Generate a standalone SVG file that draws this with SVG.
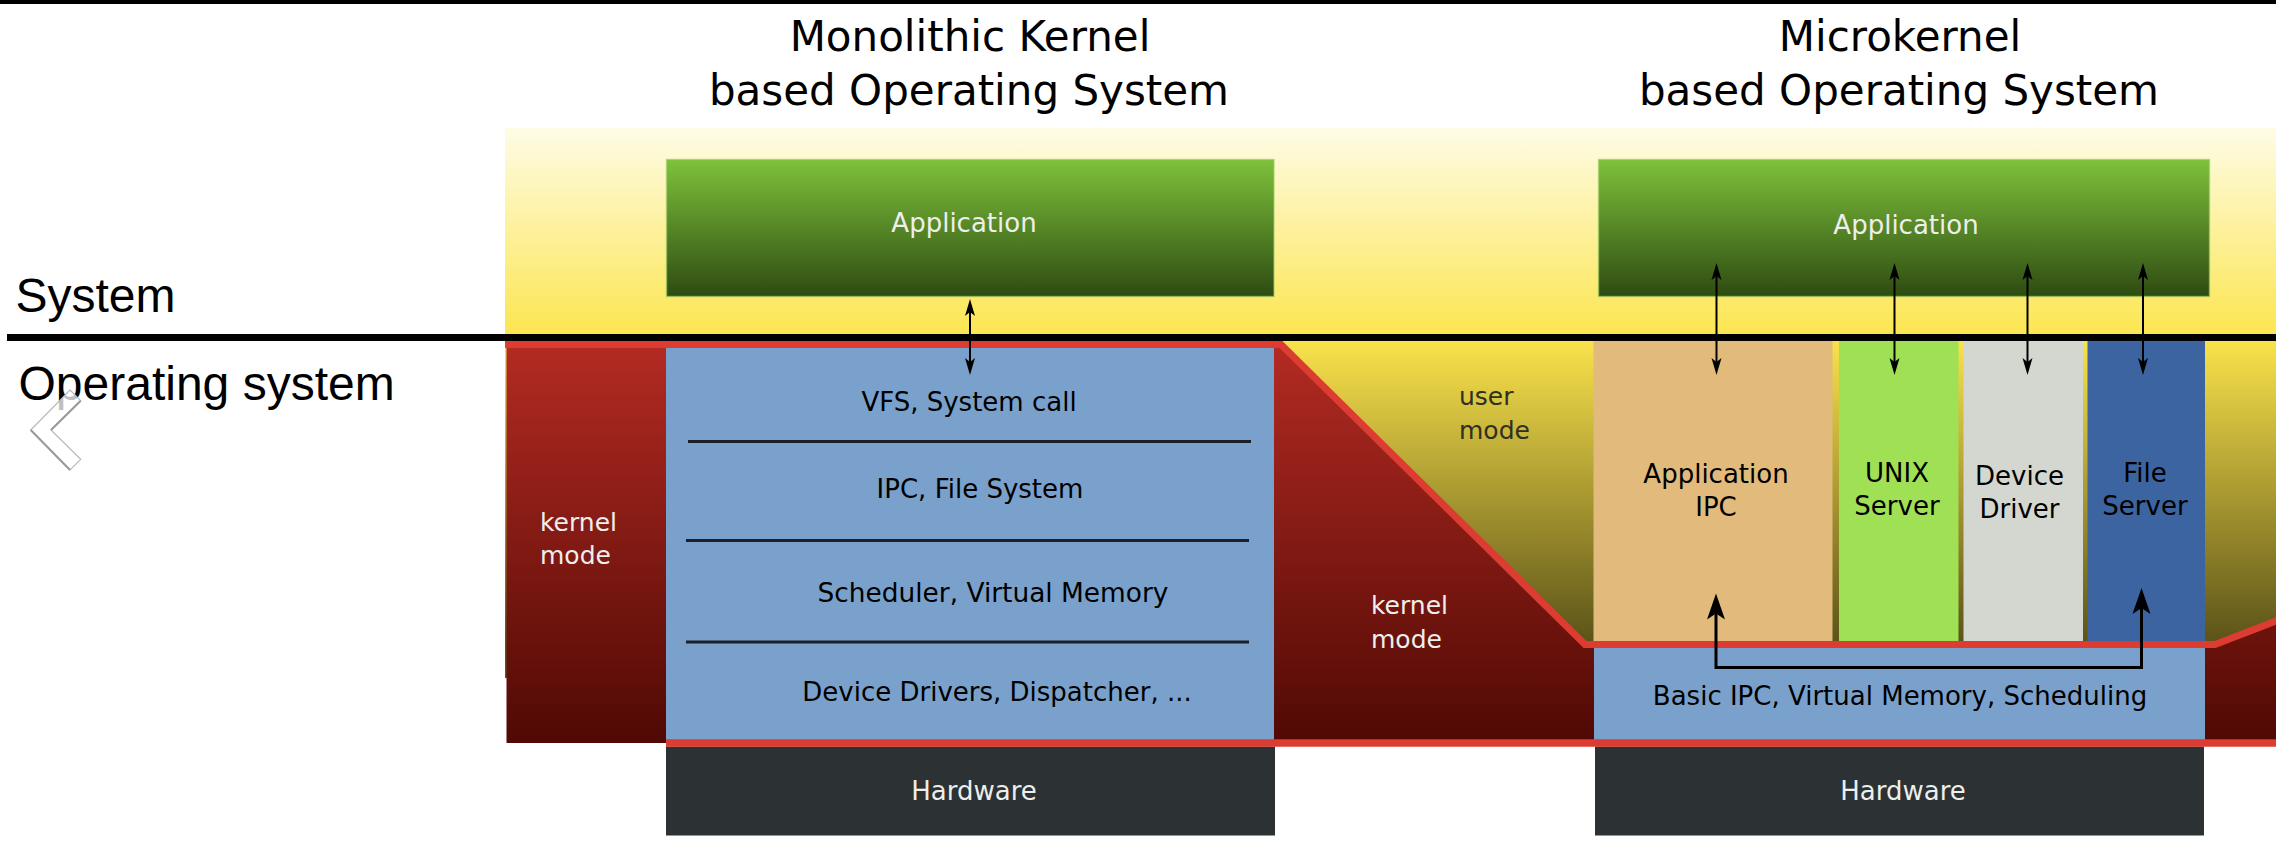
<svg xmlns="http://www.w3.org/2000/svg" width="2276" height="850" viewBox="0 0 2276 850">
<style>
.t{font-family:"DejaVu Sans",sans-serif;font-size:26px;fill:#000}
.tc{text-anchor:middle}
.w{fill:#eeeeec}
.title{font-family:"DejaVu Sans",sans-serif;font-size:42px;fill:#000;text-anchor:middle}
.lbl{font-family:"Liberation Sans",Arial,sans-serif;font-size:48px;fill:#000}
.sep{stroke:#1b1f2a;stroke-width:3}
.ar{stroke:#000;stroke-width:2;fill:none}
.arb{stroke:#000;stroke-width:3;fill:none}
</style>
<defs>
<linearGradient id="gYel" x1="0" y1="128" x2="0" y2="341" gradientUnits="userSpaceOnUse">
<stop offset="0" stop-color="#fefce6"/><stop offset="1" stop-color="#fce54c"/>
</linearGradient>
<linearGradient id="gOl" x1="0" y1="341" x2="0" y2="644" gradientUnits="userSpaceOnUse">
<stop offset="0" stop-color="#f9e24b"/><stop offset="1" stop-color="#5a5218"/>
</linearGradient>
<linearGradient id="gRed" x1="0" y1="341" x2="0" y2="743" gradientUnits="userSpaceOnUse">
<stop offset="0" stop-color="#b42b23"/><stop offset="1" stop-color="#500904"/>
</linearGradient>
<linearGradient id="gGr" x1="0" y1="0" x2="0" y2="1">
<stop offset="0" stop-color="#7ec23b"/><stop offset="1" stop-color="#2e4b12"/>
</linearGradient>
<marker id="ah" viewBox="-20 -6 22 12" markerWidth="22" markerHeight="12" refX="-6" refY="0" orient="auto-start-reverse" markerUnits="userSpaceOnUse">
<path d="M0,0 L-17,-5 L-13,0 L-17,5 Z" fill="#000"/>
</marker>
<marker id="ahB" viewBox="-28 -10 30 20" markerWidth="30" markerHeight="20" refX="-8" refY="0" orient="auto-start-reverse" markerUnits="userSpaceOnUse">
<path d="M0,0 L-26,-9 L-20,0 L-26,9 Z" fill="#000"/>
</marker>
</defs>
<rect width="2276" height="850" fill="#fff"/>
<rect x="0" y="0" width="2276" height="4" fill="#000"/>

<g id="backgrounds">
<rect x="505" y="128" width="1771" height="213" fill="url(#gYel)"/>
<rect x="505" y="341" width="1771" height="337" fill="url(#gOl)"/>
<polygon points="506.5,341 1281,341 1585,644.5 2215,644.5 2276,621 2276,743 506.5,743" fill="url(#gRed)"/>
</g>

<g id="titles">
<text class="title" x="970" y="51">Monolithic Kernel</text>
<text class="title" x="969" y="105">based Operating System</text>
<text class="title" x="1900" y="51">Microkernel</text>
<text class="title" x="1899" y="105">based Operating System</text>
</g>

<g id="side-labels">
<text class="lbl" x="15.5" y="311.5">System</text>
<text class="lbl" x="18.5" y="400">Operating system</text>
</g>

<g id="mono-application">
<rect x="666.5" y="159.5" width="607.5" height="137" fill="url(#gGr)" stroke="#9ccf64" stroke-opacity="0.6" stroke-width="1.5"/>
<text class="t tc w" x="964" y="232">Application</text>
</g>

<g id="mono-kernel">
<rect x="666" y="347" width="608" height="393" fill="#7aa1cb"/>
<line class="sep" x1="688" y1="441.5" x2="1251" y2="441.5"/>
<line class="sep" x1="686" y1="540.5" x2="1249" y2="540.5"/>
<line class="sep" x1="686" y1="642" x2="1249" y2="642"/>
<text class="t tc" x="969" y="411">VFS, System call</text>
<text class="t tc" x="980" y="498">IPC, File System</text>
<text class="t tc" x="993" y="602" style="font-size:26.4px">Scheduler, Virtual Memory</text>
<text class="t tc" x="997" y="701">Device Drivers, Dispatcher, ...</text>
</g>

<g id="mono-kernel-mode">
<text class="t w" x="540" y="531" style="font-size:25px">kernel</text>
<text class="t w" x="540" y="564" style="font-size:25px">mode</text>
</g>

<g id="mono-hardware">
<rect x="666" y="746.5" width="609" height="89" fill="#2c3134"/>
<text class="t tc w" x="974" y="800">Hardware</text>
</g>

<g id="micro-application">
<rect x="1598.5" y="159.5" width="611" height="137" fill="url(#gGr)" stroke="#9ccf64" stroke-opacity="0.6" stroke-width="1.5"/>
<text class="t tc w" x="1906" y="234">Application</text>
</g>

<g id="micro-app-ipc">
<rect x="1593.5" y="341" width="239" height="301" fill="#e2ba7c"/>
<text class="t tc" x="1716" y="483">Application</text>
<text class="t tc" x="1716" y="516">IPC</text>
</g>
<g id="micro-unix-server">
<rect x="1839" y="341" width="119.5" height="301" fill="#a0e055"/>
<text class="t tc" x="1897" y="482">UNIX</text>
<text class="t tc" x="1897" y="515">Server</text>
</g>
<g id="micro-device-driver">
<rect x="1963.5" y="341" width="119.5" height="301" fill="#d4d7cf"/>
<text class="t tc" x="2019.5" y="485">Device</text>
<text class="t tc" x="2019.5" y="517.5">Driver</text>
</g>
<g id="micro-file-server">
<rect x="2087.5" y="341" width="117.5" height="301" fill="#3b64a0"/>
<text class="t tc" x="2145" y="482">File</text>
<text class="t tc" x="2145" y="515">Server</text>
</g>

<g id="micro-user-mode">
<text class="t" x="1459" y="405" style="font-size:25px;fill:#2f2f22">user</text>
<text class="t" x="1459" y="438.5" style="font-size:25px;fill:#2f2f22">mode</text>
</g>
<g id="micro-kernel-mode">
<text class="t w" x="1371" y="614" style="font-size:25px">kernel</text>
<text class="t w" x="1371" y="647.5" style="font-size:25px">mode</text>
</g>

<g id="micro-kernel">
<rect x="1594" y="647" width="611" height="93" fill="#7aa1cb"/>
<text class="t tc" x="1900" y="705">Basic IPC, Virtual Memory, Scheduling</text>
</g>

<g id="micro-hardware">
<rect x="1595" y="746.5" width="609" height="89" fill="#2c3134"/>
<text class="t tc w" x="1903" y="800">Hardware</text>
</g>

<g id="boundaries" fill="none">
<path d="M505,344.5 H1281 L1585,644.5 H2215 L2280,619.5" stroke="#dc3c31" stroke-width="7"/>
<line x1="666" y1="743" x2="2276" y2="743" stroke="#dc3c31" stroke-width="7.5"/>
<line x1="7" y1="337.5" x2="2276" y2="337.5" stroke="#000" stroke-width="7"/>
</g>

<g id="connectors">
<line class="ar" x1="970" y1="305" x2="970" y2="369" marker-start="url(#ah)" marker-end="url(#ah)"/>
<line class="ar" x1="1716.5" y1="269" x2="1716.5" y2="369" marker-start="url(#ah)" marker-end="url(#ah)"/>
<line class="ar" x1="1894.5" y1="269" x2="1894.5" y2="369" marker-start="url(#ah)" marker-end="url(#ah)"/>
<line class="ar" x1="2027.5" y1="269" x2="2027.5" y2="369" marker-start="url(#ah)" marker-end="url(#ah)"/>
<line class="ar" x1="2143" y1="269" x2="2143" y2="369" marker-start="url(#ah)" marker-end="url(#ah)"/>
<path class="arb" d="M1716,601.5 V667.5 H2141.5 V596" marker-start="url(#ahB)" marker-end="url(#ahB)"/>
</g>

<g id="chevron">
<polygon points="70,390 80.7,400.7 51,430 80.7,459.3 70,470 30.7,430" fill="#fff" fill-opacity="0.75" stroke="#b8b8b8" stroke-width="1.2"/>
<polyline points="51,430 80.7,400.7" fill="none" stroke="#999" stroke-width="2"/>
<polyline points="30.7,430 70,470" fill="none" stroke="#999" stroke-width="2"/>
</g>
</svg>
